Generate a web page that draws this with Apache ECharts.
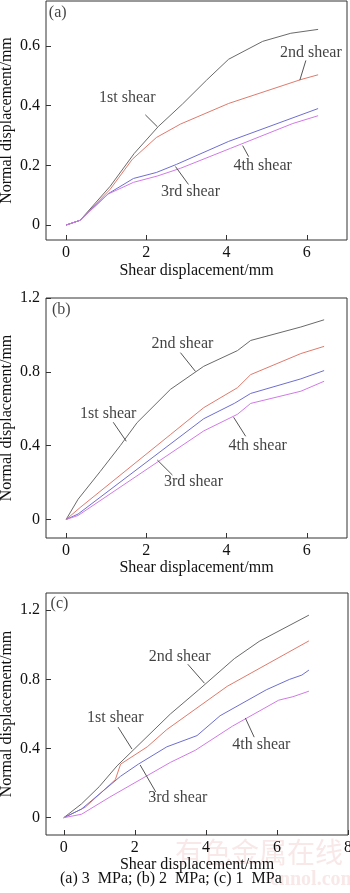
<!DOCTYPE html>
<html>
<head>
<meta charset="utf-8">
<script src="https://cdn.jsdelivr.net/npm/echarts@6.0.0/dist/echarts.min.js"></script>
<style>
  html, body { margin: 0; padding: 0; background: #fff; }
  #chart { width: 350px; height: 893px; }
</style>
</head>
<body>
<div id="chart"></div>
<script>
// series names
var shearNames = ['1st shear', '2nd shear', '3rd shear', '4th shear'];
var panelTags = ['(a)', '(b)', '(c)'];

// (a) 3 MPa  [shear displacement, normal displacement]
var a1 = [[0, 0], [0.35, 0.016], [1.1, 0.13], [1.7, 0.24], [2.3, 0.33], [2.9, 0.405], [3.5, 0.485], [4.05, 0.555], [4.9, 0.615], [5.6, 0.642], [6.28, 0.655]];
var a2 = [[0, 0], [0.35, 0.016], [1.1, 0.12], [1.65, 0.22], [2.25, 0.293], [2.85, 0.338], [4.05, 0.407], [5.85, 0.487], [6.28, 0.503]];
var a3 = [[0, 0], [0.35, 0.016], [1.05, 0.105], [1.68, 0.156], [2.25, 0.176], [2.75, 0.203], [4.05, 0.28], [6.28, 0.39]];
var a4 = [[0, 0], [0.35, 0.016], [1.05, 0.104], [1.68, 0.143], [2.27, 0.164], [2.85, 0.19], [4.1, 0.257], [5.65, 0.34], [6.28, 0.366]];

// (b) 2 MPa
var b1 = [[0, 0], [0.3, 0.11], [0.85, 0.26], [1.35, 0.4], [1.77, 0.525], [2.6, 0.705], [3.43, 0.83], [4.27, 0.915], [4.6, 0.97], [5.85, 1.043], [6.43, 1.082]];
var b2 = [[0, 0], [0.35, 0.065], [2.6, 0.46], [3.43, 0.606], [4.27, 0.714], [4.6, 0.785], [5.85, 0.899], [6.43, 0.938]];
var b3 = [[0, 0], [0.3, 0.03], [3.43, 0.546], [4.2, 0.63], [4.6, 0.683], [5.85, 0.762], [6.43, 0.807]];
var b4 = [[0, 0], [0.3, 0.022], [3.43, 0.48], [4.27, 0.57], [4.6, 0.629], [5.85, 0.695], [6.43, 0.749]];

// (c) 1 MPa
var c1 = [[0, 0], [0.5, 0.08], [1.0, 0.18], [1.5, 0.3], [2.0, 0.4], [3.0, 0.6], [3.8, 0.74], [4.8, 0.92], [5.5, 1.02], [6.9, 1.172]];
var c2 = [[0, 0], [0.6, 0.06], [1.45, 0.22], [1.6, 0.31], [2.35, 0.41], [2.9, 0.51], [4.6, 0.76], [6.9, 1.023]];
var c3 = [[0, 0], [0.5, 0.05], [1.6, 0.24], [2.1, 0.31], [2.9, 0.41], [3.75, 0.475], [4.4, 0.59], [5.7, 0.74], [6.35, 0.8], [6.7, 0.825], [6.9, 0.854]];
var c4 = [[0, 0], [0.5, 0.02], [1.3, 0.12], [3.0, 0.32], [3.7, 0.39], [4.75, 0.53], [6.05, 0.68], [6.45, 0.7], [6.9, 0.732]];

// axis ticks
var xTicksAB = [0, 2, 4, 6];
var xTicksC = [0, 2, 4, 6, 8];
var yTicksA = [0, 0.2, 0.4, 0.6];
var yTicksBC = [0, 0.4, 0.8, 1.2];

// annotation texts: [label, x, y] and leader lines: [x1, y1, x2, y2] (data units)
var notesA = [['1st shear', 1.525, 0.425], ['2nd shear', 6.1, 0.578], ['3rd shear', 3.1, 0.11], ['4th shear', 4.9, 0.2]];
var leadA = [[1.975, 0.369, 2.275, 0.329], [5.975, 0.551, 5.825, 0.485], [3.05, 0.136, 2.725, 0.196], [4.55, 0.229, 4.4, 0.266]];
var notesB = [['1st shear', 1.05, 0.575], ['2nd shear', 2.9, 0.953], ['3rd shear', 3.175, 0.203], ['4th shear', 4.775, 0.397]];
var leadB = [[1.175, 0.527, 1.5, 0.424], [2.85, 0.904, 3.225, 0.802], [2.65, 0.241, 2.275, 0.322], [4.475, 0.451, 4.175, 0.554]];
var notesC = [['1st shear', 1.45, 0.576], ['2nd shear', 3.26, 0.929], ['3rd shear', 3.21, 0.114], ['4th shear', 5.56, 0.42]];
var leadC = [[1.53, 0.524, 1.92, 0.397], [3.49, 0.888, 3.96, 0.778], [2.59, 0.149, 2.15, 0.305], [5.36, 0.466, 5.11, 0.577]];
var tagPos = [[-0.43, 0.711], [-0.35, 1.136], [-0.37, 1.238]];

var FONT = '"Liberation Serif", "DejaVu Serif", serif';
var colors = ['#6a6a6a', '#e07a6c', '#6e6ed2', '#d27ae8'];

var grids = [
  {left: 46, top: 1, width: 301, height: 239},
  {left: 46, top: 298, width: 301, height: 240},
  {left: 46, top: 593, width: 302, height: 242}
];
grids.forEach(function (g) {
  g.show = true; g.borderColor = '#333'; g.borderWidth = 1; g.backgroundColor = 'transparent';
  g.containLabel = false; g.outerBoundsMode = 'none';
});

var xRanges = [[-0.5, 7, xTicksAB], [-0.5, 7, xTicksAB], [-0.5, 8, xTicksC]];
var yRanges = [[-0.05, 0.75, yTicksA], [-0.1, 1.2, yTicksBC], [-0.1, 1.3, yTicksBC]];
var xNameGap = [23, 22, 19];

function fmt(v) { return v === 0 ? '0' : (Math.round(v * 10) / 10).toFixed(1); }

var xAxes = xRanges.map(function (r, i) {
  return {
    type: 'value', gridIndex: i, min: r[0], max: r[1], position: 'bottom',
    name: 'Shear displacement/mm', nameLocation: 'middle', nameGap: xNameGap[i],
    nameTextStyle: {fontFamily: FONT, fontSize: 16, color: '#111', verticalAlign: 'top'},
    axisLine: {show: false, onZero: false},
    axisTick: {show: true, inside: true, length: 5, customValues: r[2], lineStyle: {color: '#333'}},
    axisLabel: {customValues: r[2], margin: 5, fontFamily: FONT, fontSize: 16, color: '#111', formatter: function (v) { return String(v); }},
    splitLine: {show: false}
  };
});
var yAxes = yRanges.map(function (r, i) {
  return {
    type: 'value', gridIndex: i, min: r[0], max: r[1], position: 'left',
    name: 'Normal displacement/mm', nameLocation: 'middle', nameGap: 31, nameMoveOverlap: false,
    nameTextStyle: {fontFamily: FONT, fontSize: 16, color: '#111'},
    axisLine: {show: false, onZero: false},
    axisTick: {show: true, inside: true, length: 5, customValues: r[2], lineStyle: {color: '#333'}},
    axisLabel: {customValues: r[2], margin: 6, fontFamily: FONT, fontSize: 16, color: '#111', formatter: fmt},
    splitLine: {show: false}
  };
});

var panels = [[a1, a2, a3, a4], [b1, b2, b3, b4], [c1, c2, c3, c4]];
var notes = [notesA, notesB, notesC];
var leads = [leadA, leadB, leadC];
var series = [];
panels.forEach(function (set, p) {
  set.forEach(function (d, k) {
    series.push({
      type: 'line', name: shearNames[k], xAxisIndex: p, yAxisIndex: p, data: d,
      showSymbol: false, symbol: 'none', silent: true,
      lineStyle: {color: colors[k], width: 1}, itemStyle: {color: colors[k]}
    });
  });
  var txt = notes[p].map(function (n) { return {name: n[0], value: [n[1], n[2]]}; });
  txt.push({name: panelTags[p], value: tagPos[p], label: {align: 'left'}});
  series.push({
    type: 'scatter', xAxisIndex: p, yAxisIndex: p, symbolSize: 0, silent: true, z: 5,
    data: txt,
    label: {show: true, position: 'inside', formatter: function (q) { return q.name; },
      fontFamily: FONT, fontSize: 16, color: '#111'},
    markLine: {
      silent: true, symbol: 'none', label: {show: false},
      lineStyle: {color: '#555', width: 1, type: 'solid'},
      data: leads[p].map(function (l) { return [{coord: [l[0], l[1]]}, {coord: [l[2], l[3]]}]; })
    }
  });
});

var chart = echarts.init(document.getElementById('chart'), null, {renderer: 'canvas'});
chart.setOption({
  animation: false,
  backgroundColor: '#fff',
  grid: grids,
  xAxis: xAxes,
  yAxis: yAxes,
  series: series,
  graphic: [
    {type: 'text', left: 175, top: 838, z: 0, style: {text: '有色金属在线', font: '28px "Noto Sans CJK SC"', fill: 'rgba(225,150,150,0.22)'}},
    {type: 'text', left: 270, top: 870, z: 0, style: {text: 'cnnol.com', font: 'bold 20px ' + FONT, fill: 'rgba(225,150,150,0.22)'}},
    {type: 'text', left: 60, top: 871, z: 10, style: {text: '(a) 3  MPa; (b) 2  MPa; (c) 1  MPa', font: '16px ' + FONT, fill: '#111'}}
  ]
});
</script>
</body>
</html>
